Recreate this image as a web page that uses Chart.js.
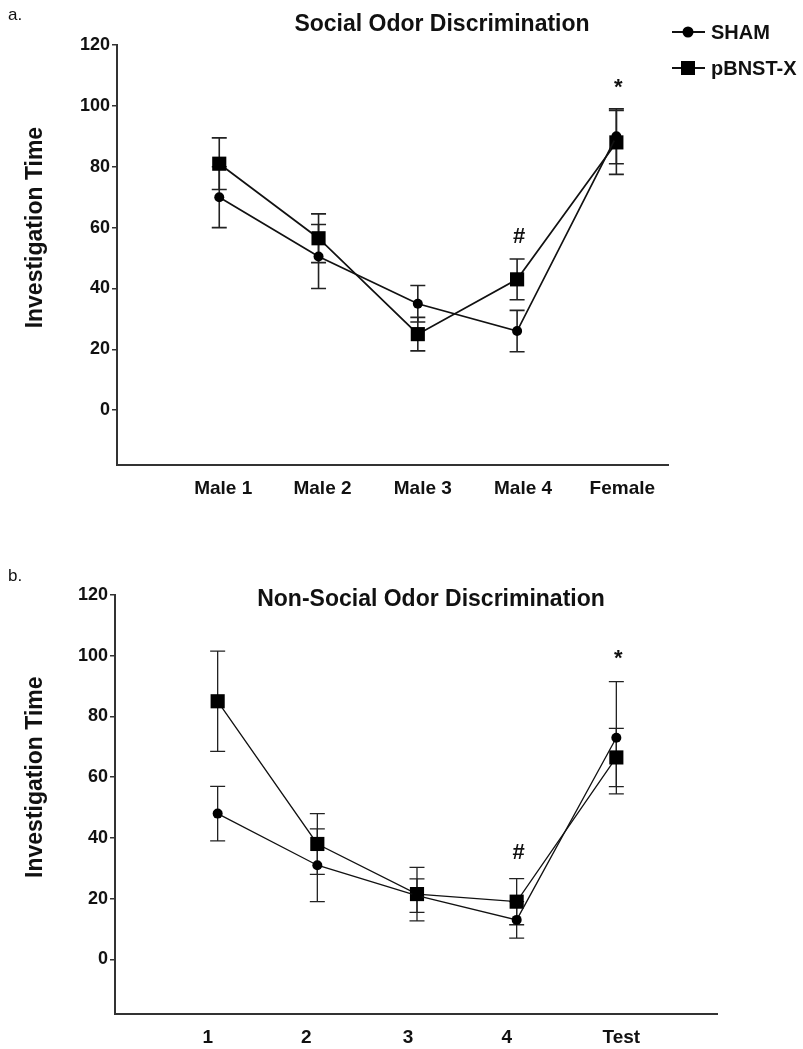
<!DOCTYPE html>
<html>
<head>
<meta charset="utf-8">
<script src="https://cdn.jsdelivr.net/npm/chart.js@4.4.1/dist/chart.umd.min.js"></script>
<style>
  html, body { margin: 0; padding: 0; background: #fff; }
  .panel { position: absolute; left: 0; width: 803px; }
  #top { top: 0; height: 525px; }
  #bottom { top: 525px; height: 524px; }
</style>
</head>
<body>
<div class="panel" id="top"><canvas id="social"></canvas></div>
<div class="panel" id="bottom"><canvas id="nonsocial"></canvas></div>
<script>
// panel a: social odours
const socialLabels = ['Male 1', 'Male 2', 'Male 3', 'Male 4', 'Female'];
const socialSham = [70, 50.5, 35, 26, 90];
const socialShamSem = [10, 10.5, 6, 6.8, 9];
const socialLesion = [81, 56.5, 25, 43, 88];
const socialLesionSem = [8.5, 8, 5.5, 6.7, 10.5];
const socialMarks = [{ text: '#', x: 4, y: 57 }, { text: '*', x: 5, y: 106 }];

// panel b: non-social odours
const nonSocialLabels = ['1', '2', '3', '4', 'Test'];
const nonSocialSham = [48, 31, 21, 13, 73];
const nonSocialShamSem = [9, 12, 5.5, 6, 18.5];
const nonSocialLesion = [85, 38, 21.5, 19, 66.5];
const nonSocialLesionSem = [16.5, 10, 8.8, 7.6, 9.6];
const nonSocialMarks = [{ text: '#', x: 4, y: 35 }, { text: '*', x: 5, y: 99 }];

const yTicks = [0, 20, 40, 60, 80, 100, 120];
const seriesNames = ['SHAM', 'pBNST-X'];

const FONT = "'Liberation Sans', Arial, sans-serif";

const errorBars = {
    id: 'errorBars',
    beforeDatasetsDraw(chart) {
        const { ctx, scales: { x, y } } = chart;
        chart.data.datasets.forEach((ds) => {
            ctx.save();
            ctx.strokeStyle = ds.errColor;
            ctx.lineWidth = ds.errWidth;
            ds.data.forEach((p, j) => {
                const s = ds.sem[j];
                const px = x.getPixelForValue(p.x);
                const top = y.getPixelForValue(p.y + s);
                const bot = y.getPixelForValue(p.y - s);
                const cap = 7.5;
                ctx.beginPath();
                ctx.moveTo(px, top); ctx.lineTo(px, bot);
                ctx.moveTo(px - cap, top); ctx.lineTo(px + cap, top);
                ctx.moveTo(px - cap, bot); ctx.lineTo(px + cap, bot);
                ctx.stroke();
            });
            ctx.restore();
        });
    }
};

function makeDecor(cfg) {
    return {
        id: 'decor',
        afterDraw(chart) {
            const { ctx, scales: { x, y } } = chart;
            ctx.save();
            ctx.fillStyle = '#111';

            // panel letter
            ctx.font = '17px ' + FONT;
            ctx.textAlign = 'left';
            ctx.textBaseline = 'alphabetic';
            ctx.fillText(cfg.letter, 8, cfg.letterY);

            // title
            ctx.font = 'bold 23px ' + FONT;
            ctx.textAlign = 'center';
            ctx.textBaseline = 'middle';
            ctx.fillText(cfg.title, cfg.titleX, cfg.titleY);

            // y axis title, centred on the 0..120 tick range
            ctx.save();
            ctx.translate(36, y.getPixelForValue(60));
            ctx.rotate(-Math.PI / 2);
            ctx.font = 'bold 23px ' + FONT;
            ctx.fillText('Investigation Time', 0, 0);
            ctx.restore();

            // significance marks
            ctx.font = 'bold 22px ' + FONT;
            cfg.marks.forEach(m => {
                ctx.fillText(m.text, x.getPixelForValue(m.x) + 2, y.getPixelForValue(m.y));
            });

            // legend
            if (cfg.legend) {
                chart.data.datasets.forEach((ds, i) => {
                    const ly = 32 + i * 36;
                    ctx.strokeStyle = ds.borderColor;
                    ctx.lineWidth = 2;
                    ctx.beginPath();
                    ctx.moveTo(672, ly); ctx.lineTo(705, ly);
                    ctx.stroke();
                    ctx.fillStyle = '#000';
                    if (ds.pointStyle === 'rect') {
                        ctx.fillRect(688 - 7, ly - 7, 14, 14);
                    } else {
                        ctx.beginPath();
                        ctx.arc(688, ly, 5.5, 0, Math.PI * 2);
                        ctx.fill();
                    }
                    ctx.fillStyle = '#111';
                    ctx.font = 'bold 20px ' + FONT;
                    ctx.textAlign = 'left';
                    ctx.fillText(ds.label, 711, ly + 1);
                });
            }
            ctx.restore();
        }
    };
}

function toPoints(values) {
    return values.map((v, i) => ({ x: i + 1, y: v }));
}

function buildChart(id, o) {
    const ctx = document.getElementById(id).getContext('2d');
    return new Chart(ctx, {
        type: 'line',
        data: {
            datasets: [{
                label: seriesNames[0],
                data: toPoints(o.sham),
                sem: o.shamSem,
                borderColor: '#111',
                borderWidth: o.lineWidth,
                pointStyle: 'circle',
                pointRadius: 5,
                pointBackgroundColor: '#000',
                pointBorderWidth: 0,
                errColor: '#222',
                errWidth: o.errWidth
            }, {
                label: seriesNames[1],
                data: toPoints(o.lesion),
                sem: o.lesionSem,
                borderColor: '#111',
                borderWidth: o.lineWidth,
                pointStyle: 'rect',
                pointRadius: 10,
                pointBackgroundColor: '#000',
                pointBorderWidth: 0,
                errColor: '#222',
                errWidth: o.errWidth
            }]
        },
        options: {
            responsive: true,
            maintainAspectRatio: false,
            animation: false,
            layout: {
                padding: { left: 0, top: o.areaTop, right: 803 - o.areaRight, bottom: 0 }
            },
            plugins: {
                legend: { display: false },
                tooltip: { enabled: false }
            },
            scales: {
                x: {
                    type: 'linear',
                    min: -0.03,
                    max: o.xMax,
                    afterBuildTicks: (s) => {
                        s.ticks = o.labels.map((l, i) => ({ value: i + 1 + o.labelNudge[i] }));
                    },
                    afterFit: (s) => { s.height = o.canvasH - o.areaBottom; },
                    ticks: {
                        autoSkip: false,
                        maxRotation: 0,
                        padding: 12,
                        color: '#111',
                        font: { family: FONT, size: 19, weight: 'bold' },
                        callback: (v, i) => o.labels[i]
                    },
                    grid: { drawOnChartArea: false, drawTicks: false },
                    border: { color: '#333', width: 2 }
                },
                y: {
                    min: -18,
                    max: 120,
                    afterBuildTicks: (s) => { s.ticks = yTicks.map(v => ({ value: v })); },
                    afterFit: (s) => { s.width = o.areaLeft; },
                    ticks: {
                        padding: 2,
                        color: '#111',
                        font: { family: FONT, size: 18, weight: 'bold' }
                    },
                    grid: { drawOnChartArea: false, tickLength: 5, color: '#333', lineWidth: 1.5 },
                    border: { color: '#333', width: 2 }
                }
            }
        },
        plugins: [errorBars, makeDecor(o.decor)]
    });
}

buildChart('social', {
    labels: socialLabels,
    sham: socialSham, shamSem: socialShamSem,
    lesion: socialLesion, lesionSem: socialLesionSem,
    canvasH: 525, areaTop: 45, areaBottom: 465, areaLeft: 117, areaRight: 668,
    xMax: 5.52,
    labelNudge: [0.04, 0.04, 0.05, 0.06, 0.06],
    lineWidth: 1.7, errWidth: 1.6,
    decor: { letter: 'a.', letterY: 20, title: 'Social Odor Discrimination', titleX: 442, titleY: 25, marks: socialMarks, legend: true }
});

buildChart('nonsocial', {
    labels: nonSocialLabels,
    sham: nonSocialSham, shamSem: nonSocialShamSem,
    lesion: nonSocialLesion, lesionSem: nonSocialLesionSem,
    canvasH: 524, areaTop: 70, areaBottom: 489, areaLeft: 115, areaRight: 717,
    xMax: 6.01,
    labelNudge: [-0.1, -0.11, -0.09, -0.1, 0.05],
    lineWidth: 1.3, errWidth: 1.3,
    decor: { letter: 'b.', letterY: 56, title: 'Non-Social Odor Discrimination', titleX: 431, titleY: 75, marks: nonSocialMarks, legend: false }
});
</script>
</body>
</html>
